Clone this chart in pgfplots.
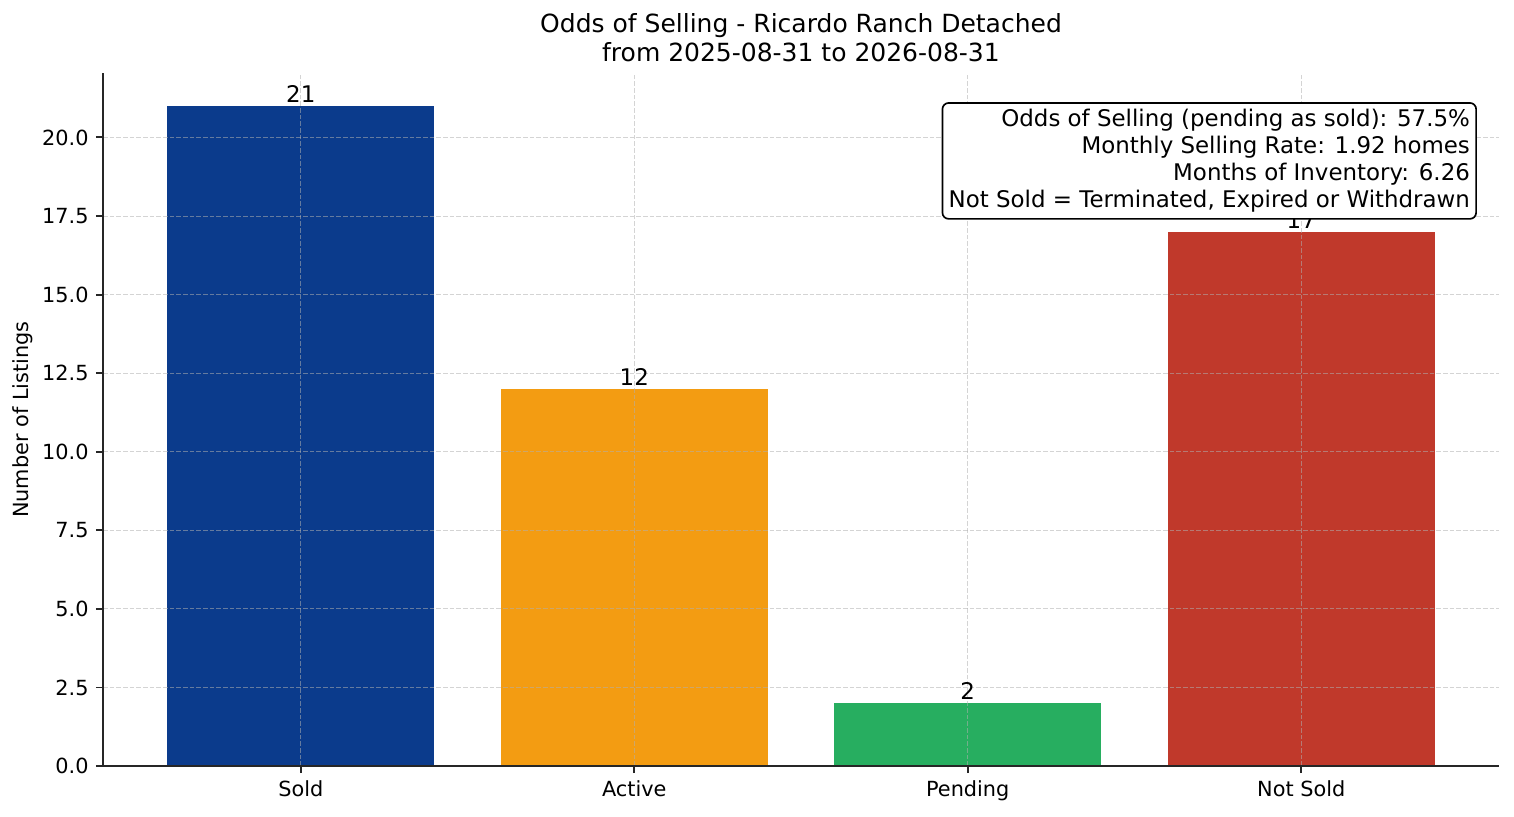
\documentclass[border=0pt]{standalone}
\usepackage{fontspec}
\setmainfont{DejaVu Sans}
\usepackage{pgfplots}
\pgfplotsset{compat=1.18}
\definecolor{csold}{HTML}{0B3B8C}
\definecolor{cact}{HTML}{F39C12}
\definecolor{cpend}{HTML}{27AE60}
\definecolor{cns}{HTML}{C0392B}
\definecolor{spine}{HTML}{262626}
\definecolor{gridc}{HTML}{B0B0B0}
\begin{document}
\begin{tikzpicture}
\path[use as bounding box] (0,0) rectangle (726.72pt,391.68pt);
\begin{axis}[
  at={(49.44pt,24pt)}, anchor=south west,
  scale only axis, width=670.08pt, height=332.64pt,
  xmin=-0.593, xmax=3.593, ymin=0, ymax=22.05,
  axis x line*=bottom, axis y line*=left,
  axis line style={spine, line width=0.9pt},
  tick align=outside, major tick length=3.4pt,
  tick style={spine, line width=0.9pt},
  /pgf/number format/assume math mode=true,
  xtick={0,1,2,3}, xticklabels={Sold,Active,Pending,Not Sold},
  ytick={0,2.5,5,7.5,10,12.5,15,17.5,20},
  yticklabel style={/pgf/number format/.cd, fixed, fixed zerofill, precision=1, assume math mode=true},
  ticklabel style={font=\fontsize{10}{12}\selectfont, text=black},
  grid=major, grid style={gridc, draw opacity=0.55, dash pattern=on 2.2pt off 1.0pt, line width=0.4pt},
  axis on top,
  ybar, bar width=0.8,
  nodes near coords,
  every node near coord/.append style={font=\fontsize{11}{13}\selectfont, text=black, inner sep=1.5pt, /pgf/number format/assume math mode=true},
]
\addplot[fill=csold, draw=none, bar shift=0pt] coordinates {(0,21)};
\addplot[fill=cact, draw=none, bar shift=0pt] coordinates {(1,12)};
\addplot[fill=cpend, draw=none, bar shift=0pt] coordinates {(2,2)};
\addplot[fill=cns, draw=none, bar shift=0pt] coordinates {(3,17)};
\coordinate (boxne) at (rel axis cs:0.9842,0.958);
\coordinate (titlepos) at (rel axis cs:0.5,1);
\end{axis}
\node[anchor=south, align=center, font=\fontsize{12}{14}\selectfont, yshift=1.6pt] at (titlepos) {Odds of Selling - Ricardo Ranch Detached\\from 2025-08-31 to 2026-08-31};
\node[anchor=north east, align=right, draw=black, fill=white, rounded corners=3pt, line width=0.8pt, inner sep=3pt, font=\fontsize{11}{13}\selectfont] at (boxne) {Odds of Selling (pending as sold): 57.5\%\\Monthly Selling Rate: 1.92 homes\\Months of Inventory: 6.26\\Not Sold = Terminated, Expired or Withdrawn};
\node[rotate=90, font=\fontsize{10}{12}\selectfont] at (11.04pt,190.3pt) {Number of Listings};
\end{tikzpicture}
\end{document}
